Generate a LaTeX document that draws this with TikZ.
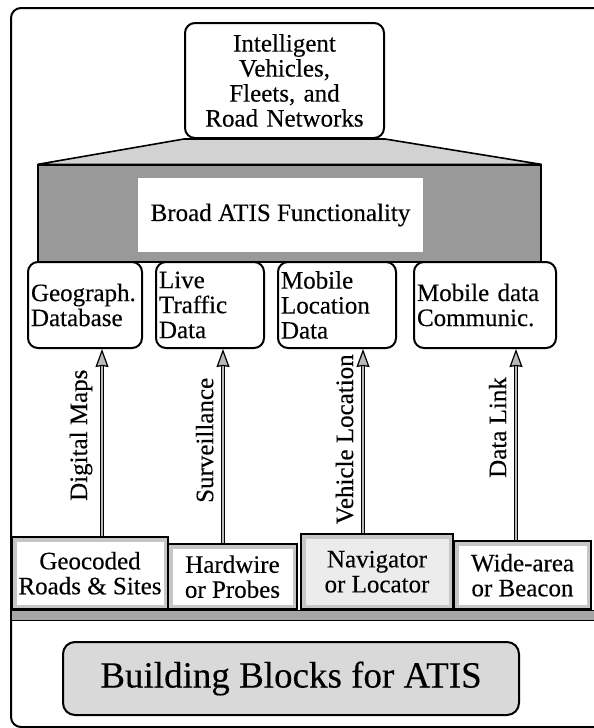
\documentclass[tikz,border=0pt]{standalone}
\usepackage{fontspec}
\setmainfont{Liberation Serif}[UprightFeatures={FakeBold=0.3}]
\usetikzlibrary{arrows.meta}
\begin{document}
\begin{tikzpicture}[x=1pt, y=-1pt, font=\fontsize{25}{25}\selectfont]
	\tikzstyle{rb} = [draw, line width=2pt, rounded corners=10pt, fill=white, inner sep=3pt, minimum height=86pt]
	\tikzstyle{lb} = [draw, line width=1.6pt, fill=white, inner sep=2pt, anchor=south, align=center,
		path picture={\draw[gray!45, line width=9pt] (path picture bounding box.south west) rectangle (path picture bounding box.north east);}]
	\tikzstyle{feed} = [draw, line width=1.2pt, double=gray!55, double distance=2.4pt,
		-{Stealth[length=18pt, width=13pt, inset=1pt, fill=gray!55]}]
	\tikzstyle{tag} = [sloped, above=7pt, inner sep=2pt]
	\useasboundingbox (0,0) rectangle (594,728);
	\draw[line width=2pt, rounded corners=10pt] (620,8) -- (11,8) -- (11,727) -- (620,727);
	\node[rb, align=center, text width=193pt, minimum height=115pt] (iv) at (284.5,80.5)
		{Intelligent\\Vehicles,\\Fleets, and\\Road Networks};
	\node[draw, line width=1.2pt, fill=gray!80, minimum width=503pt, minimum height=97pt] (dk) at (289.5,213.5) {};
	\draw[line width=1.6pt, fill=gray!35] (iv.south west) -- (iv.south east) -- (dk.north east) -- (dk.north west) -- cycle;
	\node[fill=white, minimum width=285pt, minimum height=74pt] (ba) at (280.5,215) {Broad ATIS Functionality};
	\node[rb, text width=108pt, align=left] (geo) at (85,305) {Geograph.\\Database};
	\node[rb, text width=102pt, align=left] (live) at (210,305) {Live\\Traffic\\Data};
	\node[rb, text width=112pt, align=left] (mob) at (337,305) {Mobile\\Location\\Data};
	\node[rb, text width=136pt, align=left] (com) at (485,305) {Mobile data\\Communic.};
	\node[lb, minimum width=156pt, minimum height=72pt] (gc) at (90,610) {Geocoded\\Roads \& Sites};
	\node[lb, minimum width=129pt, minimum height=65pt] (hw) at (232.5,610) {Hardwire\\or Probes};
	\node[lb, fill=gray!15, minimum width=152pt, minimum height=75pt] (nav) at (377,610) {Navigator\\or Locator};
	\node[lb, minimum width=137pt, minimum height=68pt] (wa) at (522.5,610) {Wide-area\\or Beacon};
	\draw[line width=1pt, fill=gray!70] (gc.south west) rectangle (600,620);
	\coordinate (c1) at (102,0);
	\coordinate (c2) at (223,0);
	\coordinate (c3) at (363,0);
	\coordinate (c4) at (516,0);
	\draw[feed] (gc.north -| c1) -- node[tag, pos=0.54] {Digital Maps} (geo.south -| c1);
	\draw[feed] (hw.north -| c2) -- node[tag, pos=0.53] {Surveillance} (live.south -| c2);
	\draw[feed] (nav.north -| c3) -- node[tag, pos=0.51] {Vehicle Location} (mob.south -| c3);
	\draw[feed] (wa.north -| c4) -- node[tag, pos=0.59] {Data Link} (com.south -| c4);
	\node[draw, line width=2pt, rounded corners=12pt, fill=gray!30, minimum width=456pt, minimum height=73pt,
		font=\fontsize{37}{40}\selectfont] (bb) at (291,678.5) {Building Blocks for ATIS};
\end{tikzpicture}
\end{document}
